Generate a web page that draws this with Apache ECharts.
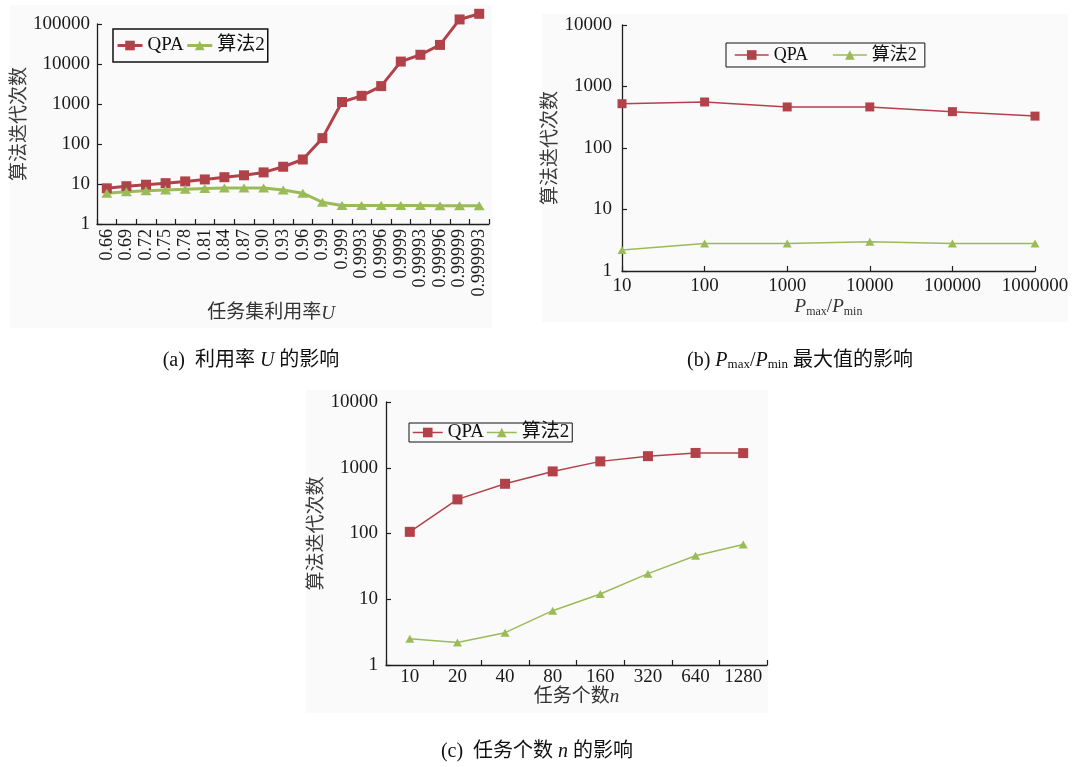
<!DOCTYPE html>
<html>
<head>
<meta charset="utf-8">
<title>算法迭代次数</title>
<script src="https://cdn.jsdelivr.net/npm/echarts@6/dist/echarts.min.js"></script>
<style>
  html, body { margin: 0; padding: 0; background: #fff; }
  #main { width: 1072px; height: 767px; }
</style>
</head>
<body>
<div id="main"></div>
<script>
// (a) 利用率 U 的影响
const utilLabels = ['0.66', '0.69', '0.72', '0.75', '0.78', '0.81', '0.84', '0.87', '0.90', '0.93',
  '0.96', '0.99', '0.999', '0.9993', '0.9996', '0.9999', '0.99993', '0.99996', '0.99999', '0.999993']
const utilQPA = [7.8, 8.8, 9.6, 10.5, 11.6, 13, 14.8, 16.5, 19.5, 27, 41, 140, 1120, 1600, 2800, 11500, 17000, 30000, 130000, 180000]
const utilAlg2 = [5.9, 6.4, 6.8, 7.1, 7.4, 7.7, 7.9, 7.9, 7.9, 7.1, 5.9, 3.5, 2.9, 2.9, 2.9, 2.9, 2.9, 2.85, 2.85, 2.85]

// (b) Pmax/Pmin 最大值的影响
const ratioLabels = ['10', '100', '1000', '10000', '100000', '1000000']
const ratioQPA = [525, 560, 465, 465, 390, 330]
const ratioAlg2 = [2.2, 2.8, 2.8, 3.0, 2.8, 2.8]

// (c) 任务个数 n 的影响
const taskLabels = ['10', '20', '40', '80', '160', '320', '640', '1280']
const taskQPA = [106, 330, 570, 880, 1250, 1500, 1680, 1670]
const taskAlg2 = [2.5, 2.2, 3.1, 6.7, 12, 24.5, 46, 68]

const FONT = '"Times New Roman", "Liberation Serif", "Noto Sans CJK SC", serif'
const RED = '#b2424a'
const GREEN = '#9bbb59'
const AXIS = '#1f1f1f'

const italic = { fontFamily: FONT, fontSize: 19, fontStyle: 'italic', color: '#333' }

function logAxis(gridIndex, max, nameGap, labelMargin) {
  return {
    type: 'log',
    logBase: 10,
    gridIndex: gridIndex,
    min: 1,
    max: max,
    axisLine: { show: true, lineStyle: { color: AXIS, width: 1.3 } },
    axisTick: { show: true, inside: true, length: 5, lineStyle: { color: AXIS, width: 1.2 } },
    axisLabel: {
      margin: labelMargin,
      fontFamily: FONT,
      fontSize: 19,
      color: '#1a1a1a',
      formatter: v => String(Math.round(v))
    },
    splitLine: { show: false },
    name: '算法迭代次数',
    nameLocation: 'middle',
    nameGap: nameGap,
    nameTextStyle: { fontFamily: FONT, fontSize: 19, color: '#3a3a3a' }
  }
}

function catAxis(gridIndex, data, boundaryGap, label, name, nameGap, namePadding) {
  return {
    type: 'category',
    gridIndex: gridIndex,
    data: data,
    boundaryGap: boundaryGap,
    axisLine: { lineStyle: { color: AXIS, width: 1.3 } },
    axisTick: { show: true, inside: true, length: 5, lineStyle: { color: AXIS, width: 1.2 } },
    axisLabel: Object.assign({ interval: 0, fontFamily: FONT, fontSize: 19, color: '#1a1a1a' }, label),
    name: name,
    nameLocation: 'middle',
    nameGap: nameGap,
    nameTextStyle: {
      fontFamily: FONT,
      fontSize: 19,
      color: '#333',
      padding: namePadding || 0,
      rich: {
        i: italic,
        sub: { fontFamily: FONT, fontSize: 12, color: '#333', lineHeight: 12, verticalAlign: 'bottom' },
        n: { fontFamily: FONT, fontSize: 19, color: '#333', lineHeight: 22 }
      }
    }
  }
}

function line(name, data, idx, color, symbol, size, width) {
  return {
    name: name,
    type: 'line',
    xAxisIndex: idx,
    yAxisIndex: idx,
    data: data,
    symbol: symbol,
    symbolSize: size,
    clip: false,
    lineStyle: { color: color, width: width },
    itemStyle: { color: color },
    emphasis: { disabled: true }
  }
}

function legendBox(left, top, padding, itemWidth, itemGap, fontSize, borderWidth, lineWidth) {
  return {
    left: left,
    top: top,
    padding: padding,
    itemWidth: itemWidth,
    itemHeight: 12,
    itemGap: itemGap,
    borderColor: '#111',
    borderWidth: borderWidth,
    textStyle: { fontFamily: FONT, fontSize: fontSize, color: '#111' },
    data: [
      { name: 'QPA', lineStyle: { width: lineWidth } },
      { name: '算法2', lineStyle: { width: lineWidth } }
    ]
  }
}

const chart = echarts.init(document.getElementById('main'))

chart.setOption({
  backgroundColor: '#ffffff',
  animation: false,
  grid: [
    { left: 97, top: 24, width: 392, height: 200 },
    { left: 622, top: 25, width: 413, height: 246 },
    { left: 386, top: 402, width: 381, height: 263 }
  ],
  xAxis: [
    catAxis(0, utilLabels, true, { rotate: 90, margin: 5, fontSize: 18 }, '任务集利用率{i|U}', 80, [0, 44, 0, 0]),
    catAxis(1, ratioLabels, false, { margin: 6 }, '{i|P}{sub|max}{n|/}{i|P}{sub|min}', 25),
    catAxis(2, taskLabels, true, { margin: 3 }, '任务个数{i|n}', 22)
  ],
  yAxis: [
    logAxis(0, 100000, 62, 7),
    logAxis(1, 10000, 57, 10),
    logAxis(2, 10000, 55, 8)
  ],
  legend: [
    legendBox(113, 29, [7, 3], 25, 2, 19, 1.5, 3),
    legendBox(726, 43, [3, 8], 34, 24, 18, 1, 1.5),
    legendBox(409, 423, [0, 3], 30, 2, 19, 1, 1.5)
  ],
  series: [
    line('QPA', utilQPA, 0, RED, 'rect', 10, 3),
    line('算法2', utilAlg2, 0, GREEN, 'triangle', [11, 9], 3),
    line('QPA', ratioQPA, 1, RED, 'rect', 9, 1.5),
    line('算法2', ratioAlg2, 1, GREEN, 'triangle', [9, 8], 1.5),
    line('QPA', taskQPA, 2, RED, 'rect', 10, 1.5),
    line('算法2', taskAlg2, 2, GREEN, 'triangle', [9, 8], 1.5)
  ],
  graphic: [
    { type: 'rect', z: -100, shape: { x: 10, y: 5, width: 482, height: 323 }, style: { fill: '#fafafa' } },
    { type: 'rect', z: -100, shape: { x: 542, y: 14, width: 526, height: 308 }, style: { fill: '#fafafa' } },
    { type: 'rect', z: -100, shape: { x: 306, y: 390, width: 462, height: 323 }, style: { fill: '#fafafa' } },
    {
      type: 'text', x: 251, y: 361,
      style: {
        text: '(a)  利用率 {i|U} 的影响',
        font: '20px ' + FONT, fill: '#111', align: 'center', verticalAlign: 'middle',
        rich: { i: { fontFamily: FONT, fontSize: 20, fontStyle: 'italic', fill: '#111' } }
      }
    },
    {
      type: 'text', x: 800, y: 361,
      style: {
        text: '(b) {i|P}{sub|max}/{i|P}{sub|min} 最大值的影响',
        font: '20px ' + FONT, fill: '#111', align: 'center', verticalAlign: 'middle',
        rich: {
          i: { fontFamily: FONT, fontSize: 20, fontStyle: 'italic', fill: '#111' },
          sub: { fontFamily: FONT, fontSize: 13, fill: '#111', lineHeight: 12, verticalAlign: 'bottom' }
        }
      }
    },
    {
      type: 'text', x: 537, y: 752,
      style: {
        text: '(c)  任务个数 {i|n} 的影响',
        font: '20px ' + FONT, fill: '#111', align: 'center', verticalAlign: 'middle',
        rich: { i: { fontFamily: FONT, fontSize: 20, fontStyle: 'italic', fill: '#111' } }
      }
    }
  ]
})
</script>
</body>
</html>
